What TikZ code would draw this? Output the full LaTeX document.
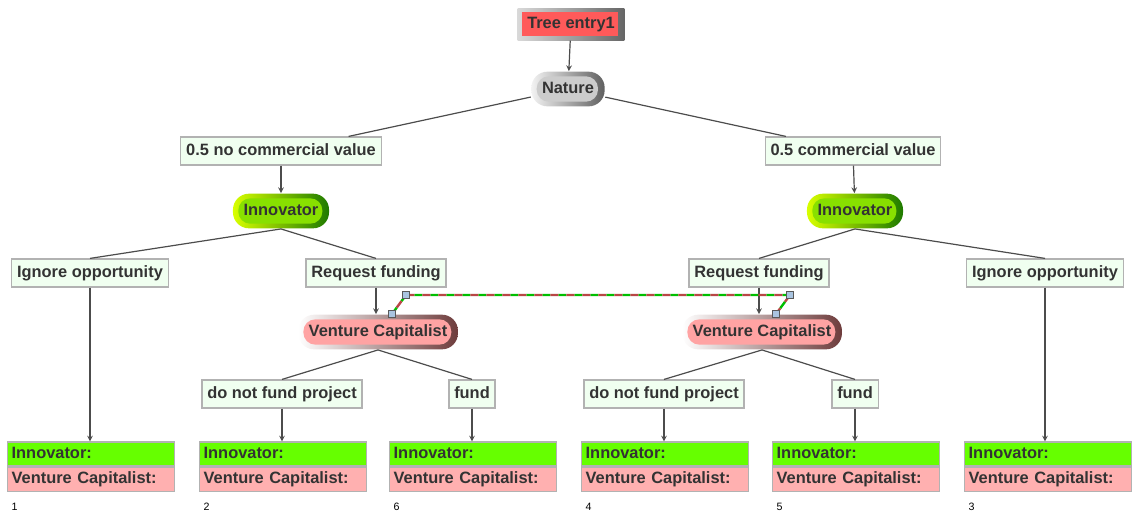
\documentclass[tikz,border=0pt]{standalone}
\usepackage{fontspec}
\setmainfont{Liberation Sans}
\usepackage{tikz}
\usepackage{xcolor}
\usetikzlibrary{positioning}
\definecolor{boxfill}{HTML}{F0FFF0}
\definecolor{payG}{HTML}{66FF00}
\definecolor{payR}{HTML}{FFB0B0}
\definecolor{vcpink}{HTML}{FFA3A3}
\definecolor{vcdark}{HTML}{6E3C3C}
\definecolor{innolight}{HTML}{D8FF00}
\definecolor{innodark}{HTML}{1E7A00}
\definecolor{innofill}{HTML}{88E000}
\definecolor{rootred}{HTML}{FF5A5A}
\definecolor{handlefill}{HTML}{A9C4E0}
\tikzstyle{txt} = [font=\bfseries\fontsize{12.3}{14}\selectfont, text=black!80, text height=9pt, text depth=2.7pt]
\tikzstyle{choice} = [txt, rectangle, draw=gray!60, fill=boxfill, minimum height=21pt, inner xsep=4pt, inner ysep=4.5pt]
\tikzstyle{payoff} = [txt, rectangle, draw=gray!60, minimum width=125pt, minimum height=18pt, text width=119pt, align=left, inner xsep=3pt, inner ysep=0pt]
\tikzstyle{leafno} = [font=\fontsize{8}{9}\selectfont, inner sep=0pt]
\tikzstyle{handle} = [rectangle, draw=gray!70!black, fill=handlefill, minimum size=5pt, inner sep=0pt, line width=0.5pt]
\tikzset{
  player/.style n args={3}{txt, rectangle, rounded corners=12pt, minimum height=26pt, inner xsep=8pt,
    left color=#1, right color=#2,
    path picture={\fill[#3, rounded corners=9pt] ([xshift=4pt,yshift=3.5pt]path picture bounding box.south west)
      rectangle ([xshift=-5pt,yshift=-3.5pt]path picture bounding box.north east);}},
  rootbox/.style={txt, rectangle, minimum width=80pt, minimum height=24pt,
    left color=gray!30, right color=gray!80!black,
    path picture={\fill[rootred] ([xshift=3pt,yshift=3pt]path picture bounding box.south west)
      rectangle ([xshift=-5pt,yshift=-3pt]path picture bounding box.north east);}},
  link/.style={-, line width=1.8pt, dash pattern=on 6pt off 6pt}
}

\begin{document}
\begin{tikzpicture}[->,>=stealth,line width=0.9pt,draw=black!70,x=0.75pt,y=-0.75pt]
  \useasboundingbox (0,0) rectangle (1137,512);
  \node[rootbox] (root) at (571,24) {Tree entry1};
  \node[player={gray!10}{gray!75!black}{gray!40}] (nature) at (568,89) {Nature};
  \node[choice] (noval) at (281,151) {0.5 no commercial value};
  \node[choice] (val) at (853,151) {0.5 commercial value};
  \node[player={innolight}{innodark}{innofill}] (innoL) at (281,211) {Innovator};
  \node[player={innolight}{innodark}{innofill}] (innoR) at (855,211) {Innovator};
  \node[choice] (ignL) at (90,273) {Ignore opportunity};
  \node[choice] (reqL) at (376,273) {Request funding};
  \node[choice] (reqR) at (759,273) {Request funding};
  \node[choice] (ignR) at (1045,273) {Ignore opportunity};
  \node[player={white}{vcdark}{vcpink}] (vcL) at (378,332) {Venture Capitalist};
  \node[player={white}{vcdark}{vcpink}] (vcR) at (762,332) {Venture Capitalist};
  \node[choice] (nofL) at (282,394) {do not fund project};
  \node[choice] (fundL) at (472,394) {fund};
  \node[choice] (nofR) at (664,394) {do not fund project};
  \node[choice] (fundR) at (855,394) {fund};

  \foreach \n/\x/\lbl in {1/91/1, 2/283/2, 6/473/6, 4/665/4, 5/856/5, 3/1048/3} {
    \node[payoff, fill=payG] (pay\n) at (\x,454) {Innovator:};
    \node[payoff, fill=payR, below=0pt of pay\n] (payv\n) {Venture Capitalist:};
    \node[leafno, anchor=west] (no\n) at (\x-80,507) {\lbl};
  }

  \path (root) edge (nature);
  \path (nature) edge[-] (noval);
  \path (nature) edge[-] (val);
  \path (noval) edge (innoL);
  \path (val) edge (innoR);
  \path (innoL.south) edge[-] (ignL.north);
  \path (innoL.south) edge[-] (reqL.north);
  \path (innoR.south) edge[-] (reqR.north);
  \path (innoR.south) edge[-] (ignR.north);
  \path (ignL.south) edge (ignL.south |- pay1.north);
  \path (ignR.south) edge (ignR.south |- pay3.north);
  \path (reqL.south) edge (reqL.south |- vcL.north);
  \path (reqR.south) edge (reqR.south |- vcR.north);
  \path (vcL.south) edge[-] (nofL.north);
  \path (vcL.south) edge[-] (fundL.north);
  \path (vcR.south) edge[-] (nofR.north);
  \path (vcR.south) edge[-] (fundR.north);
  \path (nofL.south) edge (nofL.south |- pay2.north);
  \path (fundL.south) edge (fundL.south |- pay6.north);
  \path (nofR.south) edge (nofR.south |- pay4.north);
  \path (fundR.south) edge (fundR.south |- pay5.north);

  \coordinate (lA) at (392,314);
  \coordinate (lB) at (406,295);
  \coordinate (lC) at (790,295);
  \coordinate (lD) at (776,314);
  \draw[link, draw=green!75!black] (lA) -- (lB) -- (lC) -- (lD);
  \draw[link, draw=red!45!gray, dash phase=6pt] (lA) -- (lB) -- (lC) -- (lD);
  \foreach \c in {A,B,C,D}
    \node[handle] (h\c) at (l\c) {};
\end{tikzpicture}
\end{document}
